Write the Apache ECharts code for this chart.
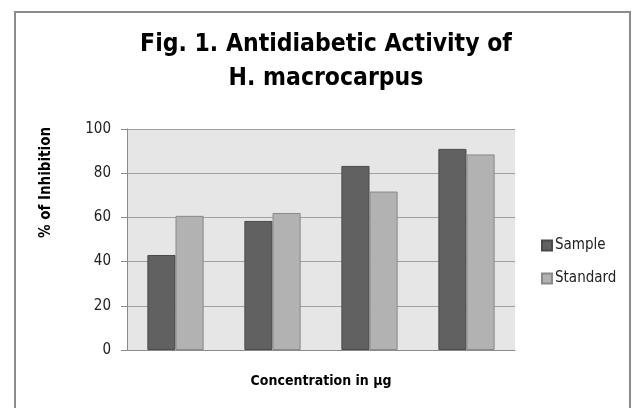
<!DOCTYPE html>
<html>
<head>
<meta charset="utf-8">
<script src="https://cdn.jsdelivr.net/npm/echarts@6/dist/echarts.min.js"></script>
<style>
  html, body { margin: 0; padding: 0; background: #fff; }
  #main { width: 637px; height: 408px; }
</style>
</head>
<body>
<div id="main"></div>
<script>
// data
const categories = ["1", "2", "3", "4"];
const sampleValues = [43, 58.4, 83.3, 91];
const standardValues = [60.7, 62, 71.7, 88.5];
const yTicks = [0, 20, 40, 60, 80, 100];

let myChart = echarts.init(document.getElementById("main"));
const font = "'Liberation Sans Narrow', 'DejaVu Sans Condensed', 'Noto Sans', sans-serif";

let option = {
  animation: false,
  backgroundColor: "#fff",
  textStyle: { fontFamily: font },
  graphic: [
    {
      type: "rect",
      shape: { x: 15, y: 12, width: 615, height: 410 },
      style: { fill: "none", stroke: "#8c8c8c", lineWidth: 2 }
    }
  ],
  title: {
    text: "Fig. 1. Antidiabetic Activity of\nH. macrocarpus",
    left: 321,
    textAlign: "center",
    top: 23,
    textStyle: {
      fontFamily: font,
      fontSize: 24.5,
      fontWeight: "bold",
      color: "#000",
      lineHeight: 34
    }
  },
  legend: {
    orient: "vertical",
    left: 536,
    top: 233,
    itemWidth: 10,
    itemHeight: 10,
    itemGap: 18,
    icon: "rect",
    textStyle: { fontFamily: font, fontSize: 15, color: "#222", padding: [0, 0, 0, -2] },
    data: ["Sample", "Standard"]
  },
  grid: {
    left: 127,
    right: 122,
    top: 129,
    bottom: 58,
    show: true,
    backgroundColor: "#e6e6e6",
    borderWidth: 0
  },
  xAxis: {
    type: "category",
    data: categories,
    name: "Concentration in µg",
    nameLocation: "middle",
    nameGap: 24,
    nameTextStyle: { fontFamily: font, fontSize: 14, fontWeight: "bold", color: "#000" },
    axisLine: { lineStyle: { color: "#8c8c8c", width: 1 } },
    axisTick: { show: false },
    axisLabel: { show: false }
  },
  yAxis: {
    type: "value",
    min: 0,
    max: 100,
    interval: 20,
    name: "% of Inhibition",
    nameLocation: "middle",
    nameGap: 73,
    nameTextStyle: {
      fontFamily: font,
      fontSize: 15,
      fontWeight: "bold",
      color: "#000",
      padding: [0, 0, 0, 114]
    },
    axisLine: { show: true, lineStyle: { color: "#8c8c8c", width: 1 } },
    axisTick: { show: true, length: 6, lineStyle: { color: "#8c8c8c" } },
    axisLabel: {
      fontFamily: font,
      fontSize: 15,
      color: "#222",
      margin: 16,
      formatter: v => (yTicks.includes(v) ? String(v) : "")
    },
    splitLine: { lineStyle: { color: "#a0a0a0", width: 1 } }
  },
  series: [
    {
      name: "Sample",
      type: "bar",
      data: sampleValues,
      barGap: "0%",
      barCategoryGap: "42%",
      itemStyle: { color: "#616161", borderColor: "#4a4a4a", borderWidth: 1 }
    },
    {
      name: "Standard",
      type: "bar",
      data: standardValues,
      itemStyle: { color: "#b2b2b2", borderColor: "#8a8a8a", borderWidth: 1 }
    }
  ]
};

myChart.setOption(option);
</script>
</body>
</html>
